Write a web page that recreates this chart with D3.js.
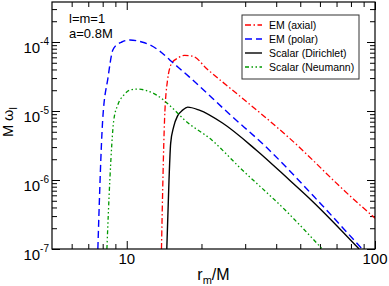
<!DOCTYPE html>
<html>
<head>
<meta charset="utf-8">
<script src="https://d3js.org/d3.v7.min.js"></script>
<style>
  body { margin: 0; background: #fff; }
  text { font-family: "Liberation Sans", Arial, Helvetica, sans-serif; }
</style>
</head>
<body>
<div id="chart"></div>
<script>
// r_m / M values and M*omega_I values
const axialR = [13.8, 14.2, 14.6, 15.2, 16.0, 17.1, 18.5, 21.0, 28.4, 45.2, 80.9, 100];
const axialW = [1e-7, 7.4e-6, 2.8e-5, 4.97e-5, 5.8e-5, 6.4e-5, 6.2e-5, 4.1e-5, 1.67e-5, 4.05e-6, 5.5e-7, 2.8e-7];

const polarR = [7.65, 8.0, 8.4, 8.79, 9.2, 9.55, 10.3, 11.5, 12.3, 13.57, 14.9, 17.9, 25.9, 36.8, 56.9, 88.7];
const polarW = [1e-7, 7.4e-6, 3.0e-5, 7.65e-5, 9.3e-5, 1.0e-4, 1.07e-4, 1.0e-4, 9.2e-5, 7.4e-5, 5.5e-5, 3.1e-5, 9.05e-6, 2.9e-6, 5.7e-7, 1e-7];

const dirichR = [14.5, 14.8, 15.03, 15.45, 16.03, 16.8, 17.6, 19.6, 24.3, 33.3, 45.2, 55.4, 86.3];
const dirichW = [1e-7, 1e-6, 3.4e-6, 5.9e-6, 8.5e-6, 1.03e-5, 1.14e-5, 1.03e-5, 6.7e-6, 2.7e-6, 1e-6, 5.1e-7, 1e-7];

const neumR = [8.32, 8.55, 8.87, 9.2, 9.73, 10.28, 10.97, 13.2, 15.3, 17.1, 22.0, 28.4, 44.4, 61.3];
const neumW = [1e-7, 1e-6, 7.4e-6, 1.22e-5, 1.7e-5, 2.0e-5, 2.08e-5, 1.7e-5, 1.1e-5, 7.4e-6, 3.8e-6, 1.54e-6, 3.4e-7, 1e-7];

const seriesNames = ["EM (axial)", "EM (polar)", "Scalar (Dirichlet)", "Scalar (Neumann)"];
const xMajor = [10, 100];
const yMajor = [1e-7, 1e-6, 1e-5, 1e-4];

let margin = { top: 2, right: 14, bottom: 37, left: 52 },
  width = 389 - margin.left - margin.right,
  height = 286 - margin.top - margin.bottom;

let svg = d3.select("#chart")
  .append("svg")
  .attr("width", width + margin.left + margin.right)
  .attr("height", height + margin.top + margin.bottom)
  .append("g").attr("transform", "translate(" + margin.left + "," + margin.top + ")");

let x = d3.scaleLog().domain([5, 100]).range([0, width]);
let y = d3.scaleLog().domain([1e-7, 3.8e-4]).range([height, 0]);

let isMajor = d => Math.abs(Math.log10(d) - Math.round(Math.log10(d))) < 1e-6;
let xMinor = x.ticks().filter(d => !isMajor(d) && d > 5);
let yMinor = y.ticks().filter(d => !isMajor(d));

// tick marks, all pointing inward, on all four sides
function ticks(axisFn, scale, vals, size, transform) {
  let g = svg.append("g")
    .attr("transform", transform)
    .call(axisFn(scale).tickValues(vals).tickSize(size).tickSizeOuter(0).tickFormat(""));
  g.select(".domain").remove();
  g.selectAll("line").attr("stroke", "#000").attr("stroke-width", 1);
}
ticks(d3.axisBottom, x, xMajor, -8, "translate(0," + height + ")");
ticks(d3.axisBottom, x, xMinor, -5, "translate(0," + height + ")");
ticks(d3.axisTop, x, xMajor, -8, "translate(0,0)");
ticks(d3.axisTop, x, xMinor, -5, "translate(0,0)");
ticks(d3.axisLeft, y, yMajor, -8, "translate(0,0)");
ticks(d3.axisLeft, y, yMinor, -5, "translate(0,0)");
ticks(d3.axisRight, y, yMajor, -8, "translate(" + width + ",0)");
ticks(d3.axisRight, y, yMinor, -5, "translate(" + width + ",0)");

// curves
svg.append("clipPath").attr("id", "clip")
  .append("rect").attr("width", width).attr("height", height);

let line = d3.line()
  .x(d => x(d[0]))
  .y(d => y(d[1]))
  .curve(d3.curveMonotoneX);

let series = [
  { r: axialR, w: axialW, color: "#ff0000", dash: "6,2.5,1.5,2.5", sw: 1.3 },
  { r: polarR, w: polarW, color: "#0000ff", dash: "7,4", sw: 1.4 },
  { r: dirichR, w: dirichW, color: "#000000", dash: null, sw: 1.4 },
  { r: neumR, w: neumW, color: "#009900", dash: "4,2.5,1.5,2.5,1.5,2.5", sw: 1.3 }
];

svg.append("g").attr("clip-path", "url(#clip)")
  .selectAll("path")
  .data(series)
  .enter().append("path")
  .attr("d", s => line(s.r.map((r, i) => [r, s.w[i]])))
  .attr("fill", "none")
  .attr("stroke", s => s.color)
  .attr("stroke-width", s => s.sw)
  .attr("stroke-dasharray", s => s.dash);

// frame
svg.append("rect")
  .attr("width", width).attr("height", height)
  .attr("fill", "none").attr("stroke", "#000").attr("stroke-width", 1.2);

// tick labels
svg.selectAll(".xlab")
  .data(xMajor)
  .enter().append("text")
  .attr("x", d => x(d))
  .attr("y", height + 15)
  .attr("text-anchor", "middle")
  .attr("font-size", 15)
  .text(d => d);

let ylab = svg.selectAll(".ylab")
  .data(yMajor)
  .enter().append("text")
  .attr("x", -3)
  .attr("y", d => y(d) + 10.5)
  .attr("text-anchor", "end")
  .attr("font-size", 15);
ylab.append("tspan").text("10");
ylab.append("tspan").attr("font-size", 10).attr("dy", -8).text(d => Math.round(Math.log10(d)));

// axis titles
let xt = svg.append("text")
  .attr("x", width / 2)
  .attr("y", height + 31)
  .attr("text-anchor", "middle")
  .attr("font-size", 16);
xt.append("tspan").text("r");
xt.append("tspan").attr("font-size", 11).attr("dy", 4).text("m");
xt.append("tspan").attr("dy", -4).text("/M");

let yt = svg.append("text")
  .attr("transform", "translate(" + (12.5 - margin.left) + "," + 120 + ") rotate(-90)")
  .attr("text-anchor", "middle")
  .attr("font-size", 14.5);
yt.append("tspan").text("M ω");
yt.append("tspan").attr("font-size", 10).attr("dy", 4).text("I");

// annotation
svg.append("text").attr("x", 17).attr("y", 21).attr("font-size", 13).text("l=m=1");
svg.append("text").attr("x", 17).attr("y", 36).attr("font-size", 13).text("a=0.8M");

// legend
let leg = svg.append("g").attr("transform", "translate(190,13)");
leg.append("rect")
  .attr("width", 117).attr("height", 64)
  .attr("fill", "#fff").attr("stroke", "#333").attr("stroke-width", 1);

let items = leg.selectAll(".item")
  .data(series)
  .enter().append("g")
  .attr("transform", (d, i) => "translate(0," + (10 + i * 14) + ")");
items.append("line")
  .attr("x1", 3).attr("x2", 20)
  .attr("stroke", d => d.color)
  .attr("stroke-width", d => d.sw)
  .attr("stroke-dasharray", d => d.dash);
items.append("text")
  .attr("x", 27).attr("y", 3.8)
  .attr("font-size", 10.5)
  .text((d, i) => seriesNames[i]);
</script>
</body>
</html>
